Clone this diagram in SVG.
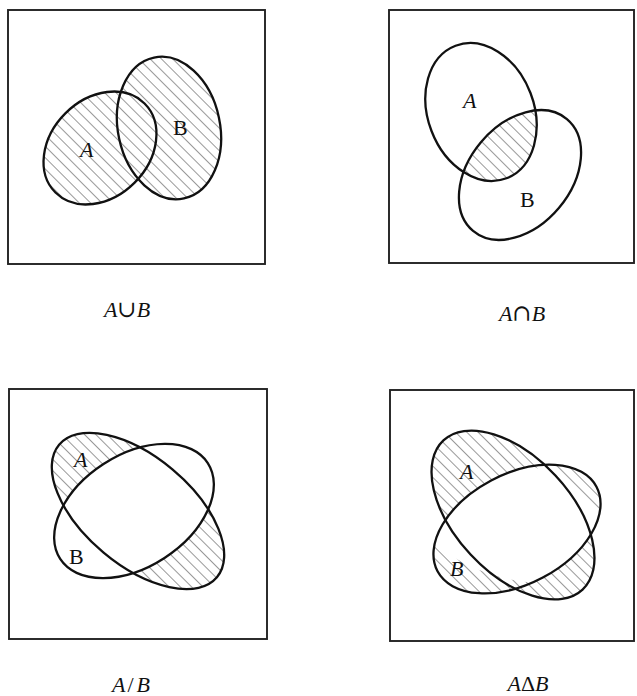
<svg xmlns="http://www.w3.org/2000/svg" width="637" height="696" viewBox="0 0 637 696">
<style>
.box{fill:none;stroke:#222;stroke-width:1.9}
.ell{fill:none;stroke:#111;stroke-width:2.3}
.w{fill:#fff}
.lbl{font-family:"Liberation Serif","Times New Roman",serif;font-size:22px;fill:#111}
.cap{font-family:"Liberation Serif","Times New Roman",serif;font-size:22px;fill:#111;text-anchor:middle}
.it{font-style:italic}
.sym{font-family:"DejaVu Serif",serif;font-size:23px}
</style>
<defs>
<pattern id="hatch" patternUnits="userSpaceOnUse" width="8" height="8" patternTransform="rotate(-45)">
<line x1="0" y1="0" x2="0" y2="8" stroke="#444" stroke-width="1.1"/>
</pattern>
<clipPath id="c1AB">
<ellipse cx="100" cy="148" rx="63" ry="49" transform="rotate(-45 100 148)"/>
<ellipse cx="169" cy="128" rx="51" ry="72" transform="rotate(-12 169 128)"/>
</clipPath>
<clipPath id="c2A"><ellipse cx="481" cy="112" rx="53" ry="71" transform="rotate(-21 481 112)"/></clipPath>
<clipPath id="c2B"><ellipse cx="520" cy="175" rx="51" ry="73" transform="rotate(40 520 175)"/></clipPath>
<clipPath id="c3A"><ellipse cx="138" cy="511" rx="103" ry="54" transform="rotate(40 138 511)"/></clipPath>
<clipPath id="c4AB">
<ellipse cx="513" cy="515" rx="102" ry="58" transform="rotate(47 513 515)"/>
<ellipse cx="517" cy="529" rx="90" ry="55" transform="rotate(-28 517 529)"/>
</clipPath>
<clipPath id="c4A"><ellipse cx="513" cy="515" rx="102" ry="58" transform="rotate(47 513 515)"/></clipPath>
</defs>
<rect width="637" height="696" fill="#fff"/>

<g id="union">
<rect class="box" x="8" y="10" width="257" height="254"/>
<rect fill="url(#hatch)" clip-path="url(#c1AB)" x="8" y="10" width="257" height="254"/>
<ellipse class="ell" cx="100" cy="148" rx="63" ry="49" transform="rotate(-45 100 148)"/>
<ellipse class="ell" cx="169" cy="128" rx="51" ry="72" transform="rotate(-12 169 128)"/>
<text class="lbl it" x="80" y="157">A</text>
<text class="lbl" x="173" y="135">B</text>
<text class="cap" x="127" y="317"><tspan class="it">A</tspan><tspan class="sym">∪</tspan><tspan class="it">B</tspan></text>
</g>

<g id="intersection">
<rect class="box" x="389" y="10" width="245" height="253"/>
<g clip-path="url(#c2A)"><rect fill="url(#hatch)" clip-path="url(#c2B)" x="389" y="10" width="245" height="253"/></g>
<ellipse class="ell" cx="481" cy="112" rx="53" ry="71" transform="rotate(-21 481 112)"/>
<ellipse class="ell" cx="520" cy="175" rx="51" ry="73" transform="rotate(40 520 175)"/>
<text class="lbl it" x="463" y="108">A</text>
<text class="lbl" x="520" y="207">B</text>
<text class="cap" x="522" y="321"><tspan class="it">A</tspan><tspan class="sym">∩</tspan><tspan class="it">B</tspan></text>
</g>

<g id="difference">
<rect class="box" x="9" y="389" width="258" height="250"/>
<rect fill="url(#hatch)" clip-path="url(#c3A)" x="9" y="389" width="258" height="250"/>
<ellipse class="w" cx="134" cy="511" rx="88" ry="56" transform="rotate(-33 134 511)"/>
<ellipse class="ell" cx="138" cy="511" rx="103" ry="54" transform="rotate(40 138 511)"/>
<ellipse class="ell" cx="134" cy="511" rx="88" ry="56" transform="rotate(-33 134 511)"/>
<text class="lbl it" x="74" y="467">A</text>
<text class="lbl" x="69" y="564">B</text>
<text class="cap" x="131" y="692"><tspan class="it">A</tspan><tspan dx="2">/</tspan><tspan class="it" dx="3">B</tspan></text>
</g>

<g id="symmetric-difference">
<rect class="box" x="390" y="390" width="244" height="251"/>
<rect fill="url(#hatch)" clip-path="url(#c4AB)" x="390" y="390" width="244" height="251"/>
<ellipse class="w" clip-path="url(#c4A)" cx="517" cy="529" rx="90" ry="55" transform="rotate(-28 517 529)"/>
<ellipse class="ell" cx="513" cy="515" rx="102" ry="58" transform="rotate(47 513 515)"/>
<ellipse class="ell" cx="517" cy="529" rx="90" ry="55" transform="rotate(-28 517 529)"/>
<text class="lbl it" x="460" y="479">A</text>
<text class="lbl it" x="450" y="576">B</text>
<text class="cap" x="528" y="691"><tspan class="it">A</tspan>Δ<tspan class="it">B</tspan></text>
</g>
</svg>
